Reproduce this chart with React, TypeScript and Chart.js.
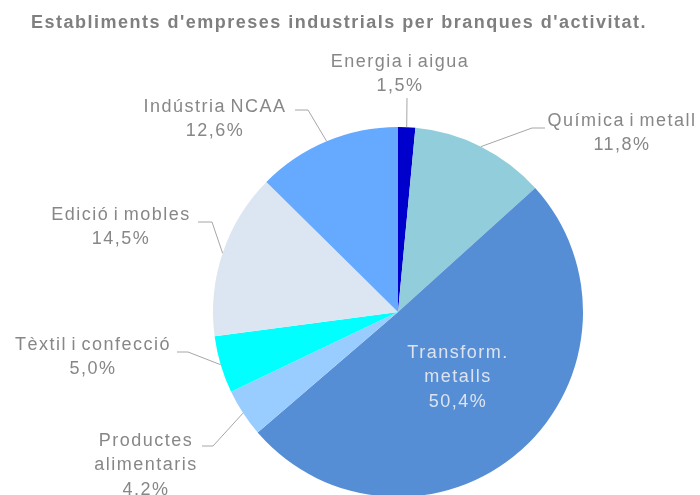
import React, { useEffect, useRef } from "react";
import { Chart, registerables } from "chart.js";

Chart.register(...registerables);

const titleText = "Establiments d'empreses industrials per branques d'activitat.";
const categories = [
  "Energia i aigua",
  "Química i metall",
  "Transform. metalls",
  "Productes alimentaris",
  "Tèxtil i confecció",
  "Edició i mobles",
  "Indústria NCAA",
];
const shares = [1.5, 11.8, 50.4, 4.2, 5.0, 14.5, 12.6];
const labelLines = [
  ["Energia i aigua"],
  ["Química i metall"],
  ["Transform.", "metalls"],
  ["Productes", "alimentaris"],
  ["Tèxtil i confecció"],
  ["Edició i mobles"],
  ["Indústria NCAA"],
];
const sliceColors = ["#0000CC", "#92CDDC", "#558ED5", "#99CCFF", "#00FFFF", "#DCE6F2", "#66AAFF"];

// label layout: text centre x, first line y, elbow, horizontal end (null = inside)
const labelLayout: any[] = [
  { tx: 400, ty: 62, elbow: [407, 98], end: null },
  { tx: 622, ty: 121, elbow: [532, 128], end: [545, 128] },
  { tx: 458, ty: 353, inside: true },
  { tx: 146, ty: 441, elbow: [213, 446], end: [202, 446] },
  { tx: 93, ty: 345, elbow: [188, 352], end: [177, 352] },
  { tx: 121, ty: 215, elbow: [212, 222], end: [198, 222] },
  { tx: 215, ty: 107, elbow: [308, 110], end: [295, 110] },
];

const fmt = (v: number) => v.toFixed(1).replace(".", ",") + "%";

const labelPlugin = {
  id: "pieLabels",
  afterDraw(chart: any) {
    const ctx = chart.ctx;
    const meta = chart.getDatasetMeta(0);
    ctx.save();
    // title
    ctx.font = "bold 18px 'Liberation Sans', Arial, sans-serif";
    (ctx as any).letterSpacing = "1.5px";
    (ctx as any).wordSpacing = "0px";
    ctx.fillStyle = "#7F7F7F";
    ctx.textAlign = "center";
    ctx.textBaseline = "middle";
    ctx.fillText(titleText, 339, 23);

    meta.data.forEach((arc: any, i: number) => {
      const lay = labelLayout[i];
      const mid = (arc.startAngle + arc.endAngle) / 2;
      const r = arc.outerRadius;
      const ax = arc.x + r * Math.cos(mid);
      const ay = arc.y + r * Math.sin(mid);
      const lines = [...labelLines[i], fmt(shares[i])];
      if (!lay.inside) {
        ctx.strokeStyle = "#A6A6A6";
        ctx.lineWidth = 1;
        ctx.beginPath();
        ctx.moveTo(ax, ay);
        ctx.lineTo(lay.elbow[0], lay.elbow[1]);
        if (lay.end) ctx.lineTo(lay.end[0], lay.end[1]);
        ctx.stroke();
      }
      ctx.font = "18px 'Liberation Sans', Arial, sans-serif";
      (ctx as any).letterSpacing = "1.5px";
      (ctx as any).wordSpacing = "-2px";
      ctx.fillStyle = lay.inside ? "#DDE3EE" : "#878787";
      lines.forEach((t, k) => {
        ctx.fillText(t, lay.tx, lay.ty + k * 24.5);
      });
    });
    ctx.restore();
  },
};

export default function App() {
  const ref = useRef<HTMLCanvasElement>(null);
  useEffect(() => {
    document.body.style.margin = "0";
    const chart = new Chart(ref.current!, {
      type: "pie",
      data: {
        labels: categories,
        datasets: [
          {
            data: shares,
            backgroundColor: sliceColors,
            borderWidth: 0,
          },
        ],
      },
      options: {
        responsive: false,
        animation: false,
        devicePixelRatio: 1,
        layout: { padding: { top: 127, left: 213, right: 117, bottom: 23 } },
        plugins: { legend: { display: false }, tooltip: { enabled: false }, title: { display: false } },
      },
      plugins: [labelPlugin],
    });
    return () => chart.destroy();
  }, []);
  return (
    <div style={{ position: "absolute", left: 0, top: 0, width: 700, height: 495, overflow: "hidden", background: "#fff" }}>
      <canvas ref={ref} width={700} height={520} style={{ display: "block" }} />
    </div>
  );
}
